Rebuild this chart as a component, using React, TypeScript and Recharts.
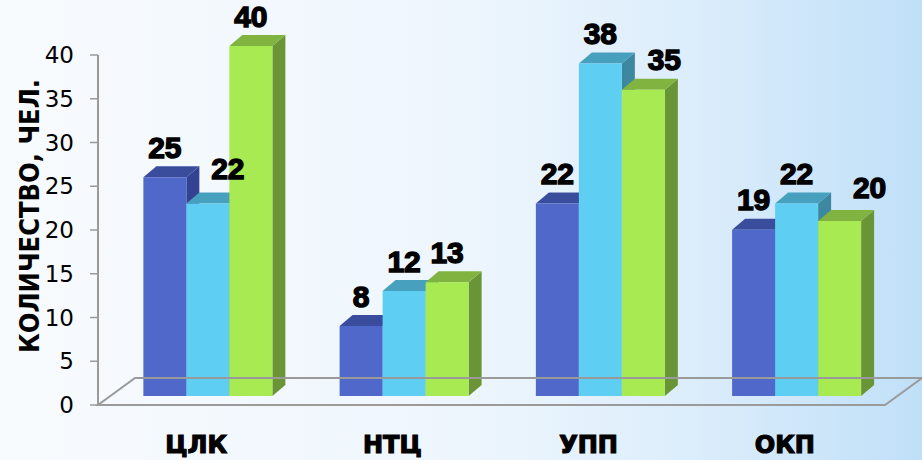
import React from 'react';
import { BarChart, Bar, XAxis, YAxis, ReferenceLine, LabelList } from 'recharts';

const categories = ['ЦЛК', 'НТЦ', 'УПП', 'ОКП'];
const series1 = [25, 8, 22, 19];
const series2 = [22, 12, 38, 22];
const series3 = [40, 13, 35, 20];
const yTicks = [0, 5, 10, 15, 20, 25, 30, 35, 40];
const yLabel = 'КОЛИЧЕСТВО, ЧЕЛ.';

const data = categories.map((c, i) => ({ cat: c, s1: series1[i], s2: series2[i], s3: series3[i] }));

// 3D projection constants (visual style)
const SHIFT_X = 12; // bar sits back into the floor
const SHIFT_Y = 9;
const DEPTH_X = 13; // bar depth
const DEPTH_Y = 11;
const FLOOR_X = 37;
const FLOOR_Y = 27;

const palette: Record<string, { front: string; top: string; side: string }> = {
  s1: { front: '#4F68C9', top: '#3A4C9C', side: '#334291' },
  s2: { front: '#5ECEF2', top: '#47A0BE', side: '#3D87A0' },
  s3: { front: '#A7EA52', top: '#80B33F', side: '#6A9536' },
};

const labelNudge: Record<string, [number, number]> = {
  'ЦЛК-s2': [20, -5],
  'УПП-s3': [21, 0],
  'ОКП-s3': [30, -4],
};

const makeShape = (key: string) => (p: any) => {
  const { x, y, width, height } = p;
  if (width == null || height == null) return <g />;
  const c = palette[key];
  const fx = x + SHIFT_X;
  const fy = y - SHIFT_Y;
  const by = fy + height;
  const top = `${fx},${fy} ${fx + width},${fy} ${fx + width + DEPTH_X},${fy - DEPTH_Y} ${fx + DEPTH_X},${fy - DEPTH_Y}`;
  const side = `${fx + width},${fy} ${fx + width + DEPTH_X},${fy - DEPTH_Y} ${fx + width + DEPTH_X},${by - DEPTH_Y} ${fx + width},${by}`;
  return (
    <g>
      <polygon points={side} fill={c.side} />
      <polygon points={top} fill={c.top} />
      <rect x={fx} y={fy} width={width} height={height} fill={c.front} />
    </g>
  );
};

const makeLabel = (key: string) => (p: any) => {
  const { x, y, width, value, index } = p;
  const nudge = labelNudge[`${categories[index]}-${key}`] || [0, 0];
  return (
    <text
      x={x + width / 2 + SHIFT_X + nudge[0]}
      y={y - SHIFT_Y - 30 + nudge[1]}
      textAnchor="middle"
      dominantBaseline="central"
      fontFamily="'Liberation Sans', Arial, sans-serif"
      fontWeight={700}
      fontSize={30}
      fill="#000"
      stroke="#000"
      strokeWidth={1.4}
    >
      {value}
    </text>
  );
};

const Floor = (p: any) => {
  const { x1, x2, y1 } = p;
  const path = `M${x1},${y1} L${x2 + 2},${y1} L${x2 + 2 + FLOOR_X},${y1 - FLOOR_Y} L${x1 + FLOOR_X},${y1 - FLOOR_Y} Z`;
  return <path d={path} fill="none" stroke="#9A9A9A" strokeWidth={2} />;
};

const CatTick = (p: any) => {
  const { x, y, payload } = p;
  return (
    <text
      x={x}
      y={y + 48}
      textAnchor="middle"
      fontFamily="'DejaVu Sans', sans-serif"
      fontWeight={700}
      fontSize={24}
      fill="#000"
      stroke="#000"
      strokeWidth={1.2}
    >
      {payload.value}
    </text>
  );
};

const YLabel = (p: any) => {
  const vb = p.viewBox || { x: 0, y: 55, width: 98, height: 350 };
  const cx = 29;
  const cy = vb.y + vb.height / 2 - 14;
  return (
    <text
      x={cx}
      y={cy}
      transform={`rotate(-90, ${cx}, ${cy})`}
      textAnchor="middle"
      dominantBaseline="central"
      fontFamily="'Liberation Sans Narrow', 'DejaVu Sans Condensed', sans-serif"
      fontWeight={700}
      fontSize={27}
      fill="#000"
    >
      {yLabel}
    </text>
  );
};

export default function App() {
  return (
    <div
      style={{
        position: 'absolute',
        left: 0,
        top: 0,
        width: 922,
        height: 460,
        background: 'linear-gradient(90deg, #f8fbfe 0%, #eef6fd 50%, #dcedfb 75%, #c0e0f8 100%)',
      }}
    >
      <BarChart
        width={922}
        height={460}
        data={data}
        margin={{ top: 55, right: 39, bottom: 0, left: 0 }}
        barCategoryGap="17%"
        barGap={0}
      >
        <XAxis
          dataKey="cat"
          axisLine={false}
          tickLine={false}
          tickSize={0}
          tickMargin={0}
          height={55}
          tick={<CatTick />}
          interval={0}
        />
        <YAxis
          domain={[0, 40]}
          ticks={yTicks}
          width={98}
          axisLine={{ stroke: '#9A9A9A', strokeWidth: 2 }}
          tickLine={{ stroke: '#9A9A9A', strokeWidth: 1.5 }}
          tickSize={8}
          tickMargin={16}
          tick={{ fontFamily: "'DejaVu Sans', sans-serif", fontSize: 23, fill: '#000' }}
          label={<YLabel />}
        />
        <ReferenceLine y={0} ifOverflow="visible" shape={Floor} />
        <Bar dataKey="s1" isAnimationActive={false} shape={makeShape('s1')}>
          <LabelList dataKey="s1" content={makeLabel('s1')} />
        </Bar>
        <Bar dataKey="s2" isAnimationActive={false} shape={makeShape('s2')}>
          <LabelList dataKey="s2" content={makeLabel('s2')} />
        </Bar>
        <Bar dataKey="s3" isAnimationActive={false} shape={makeShape('s3')}>
          <LabelList dataKey="s3" content={makeLabel('s3')} />
        </Bar>
      </BarChart>
    </div>
  );
}
